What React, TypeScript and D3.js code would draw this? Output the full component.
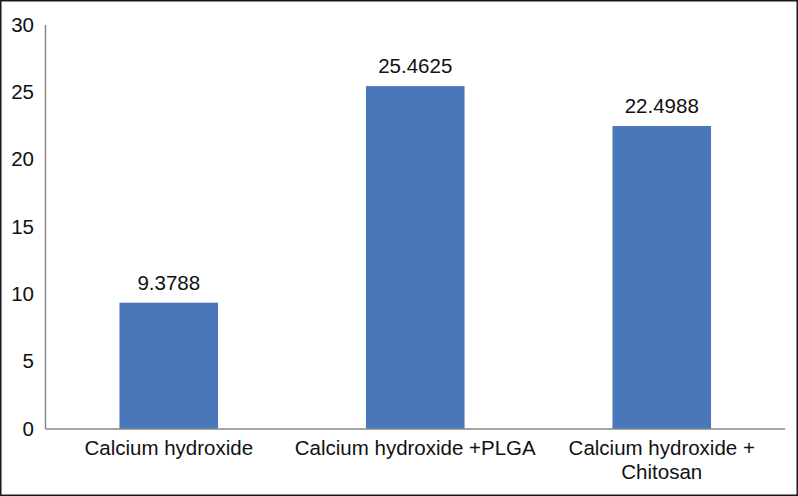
import React, { useEffect, useRef } from "react";
import * as d3 from "d3";

const categories: string[][] = [
  ["Calcium hydroxide"],
  ["Calcium hydroxide +PLGA"],
  ["Calcium hydroxide +", "Chitosan"],
];
const values: number[] = [9.3788, 25.4625, 22.4988];
const valueLabels: string[] = ["9.3788", "25.4625", "22.4988"];
const yTicks: number[] = [0, 5, 10, 15, 20, 25, 30];

const W = 798;
const H = 496;
const FONT = "'Liberation Sans', Arial, sans-serif";
const FS = 20.5;

export default function App() {
  const ref = useRef<SVGSVGElement | null>(null);

  useEffect(() => {
    const svg = d3.select(ref.current);
    svg.selectAll("*").remove();

    const left = 45.5;
    const right = 785;
    const top = 25;
    const bottom = 429;

    const x = d3
      .scaleBand<number>()
      .domain(categories.map((_, i) => i))
      .range([left, right])
      .paddingInner(0.6)
      .paddingOuter(0.3);
    const y = d3.scaleLinear().domain([0, 30]).range([bottom, top]);

    svg
      .append("rect")
      .attr("x", 0.75)
      .attr("y", 0.75)
      .attr("width", W - 1.5)
      .attr("height", H - 1.5)
      .attr("fill", "#fff")
      .attr("stroke", "#1a1a1a")
      .attr("stroke-width", 1.5);

    svg
      .selectAll("rect.bar")
      .data(values)
      .enter()
      .append("rect")
      .attr("class", "bar")
      .attr("x", (_, i) => x(i)!)
      .attr("width", x.bandwidth())
      .attr("y", (d) => y(d))
      .attr("height", (d) => bottom - y(d))
      .attr("fill", "#4a77b9");

    svg
      .selectAll("text.val")
      .data(values)
      .enter()
      .append("text")
      .attr("class", "val")
      .attr("x", (_, i) => x(i)! + x.bandwidth() / 2)
      .attr("y", (d) => y(d) - 13)
      .attr("text-anchor", "middle")
      .attr("font-family", FONT)
      .attr("font-size", FS)
      .attr("fill", "#111")
      .text((_, i) => valueLabels[i]);

    svg
      .append("line")
      .attr("x1", left)
      .attr("x2", left)
      .attr("y1", top)
      .attr("y2", bottom)
      .attr("stroke", "#878787")
      .attr("stroke-width", 1.5);

    svg
      .append("line")
      .attr("x1", left)
      .attr("x2", right)
      .attr("y1", bottom)
      .attr("y2", bottom)
      .attr("stroke", "#878787")
      .attr("stroke-width", 1.5);

    svg
      .selectAll("text.yt")
      .data(yTicks)
      .enter()
      .append("text")
      .attr("class", "yt")
      .attr("x", 34)
      .attr("y", (d) => y(d) + 6.5)
      .attr("text-anchor", "end")
      .attr("font-family", FONT)
      .attr("font-size", FS)
      .attr("fill", "#111")
      .text((d) => String(d));

    categories.forEach((lines, i) => {
      const cx = x(i)! + x.bandwidth() / 2;
      const t = svg
        .append("text")
        .attr("x", cx)
        .attr("y", 455)
        .attr("text-anchor", "middle")
        .attr("font-family", FONT)
        .attr("font-size", FS)
        .attr("fill", "#111");
      lines.forEach((ln, j) => {
        t.append("tspan")
          .attr("x", cx)
          .attr("dy", j === 0 ? 0 : 24)
          .text(ln);
      });
    });
  }, []);

  return (
    <svg
      ref={ref}
      width={W}
      height={H}
      style={{ position: "absolute", left: 0, top: 0, display: "block" }}
    />
  );
}
